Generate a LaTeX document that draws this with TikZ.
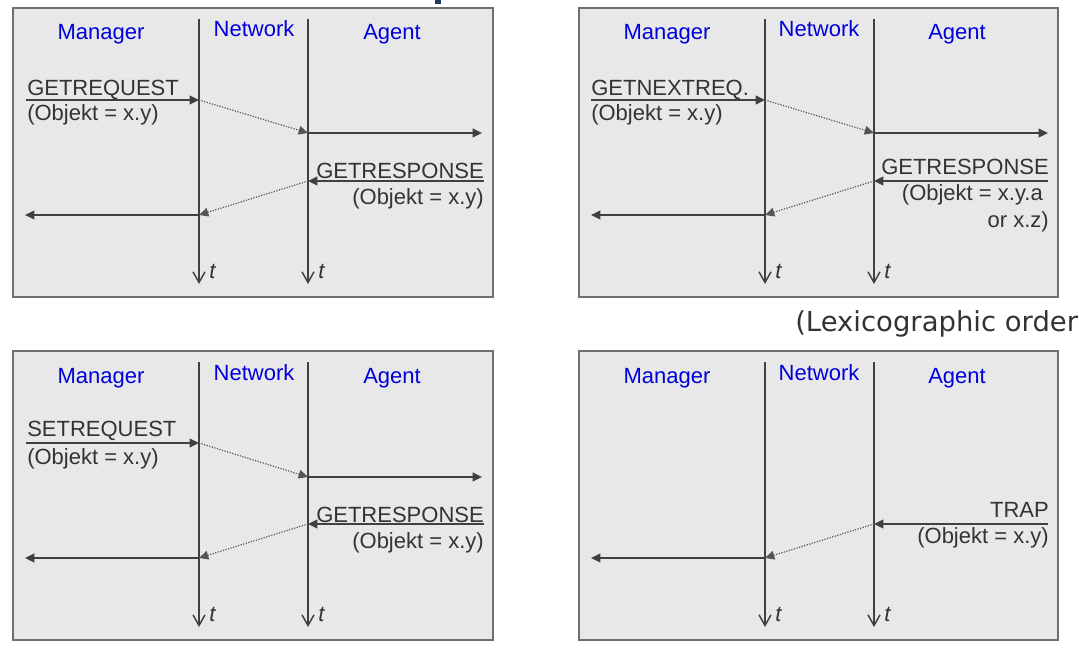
\documentclass[tikz,border=0pt]{standalone}
\usepackage{fontspec}
\setmainfont{Liberation Sans}
\newfontfamily\lexfont{DejaVu Sans}
\usetikzlibrary{arrows.meta}
\definecolor{panelfill}{HTML}{E8E8E8}
\definecolor{panelborder}{HTML}{707070}
\definecolor{linegray}{HTML}{404040}
\definecolor{msggray}{HTML}{404040}
\definecolor{hopgray}{HTML}{555555}
\definecolor{roleblue}{HTML}{0000DC}
\definecolor{txtgray}{HTML}{333333}
\definecolor{titleblue}{HTML}{1F3864}
\tikzset{
  panelbox/.style={draw=panelborder, fill=panelfill, line width=1.1pt},
  lane/.style={draw=linegray, line width=1.1pt, -{Straight Barb[length=8pt,width=9pt,line width=1.1pt]}},
  msg/.style={draw=msggray, line width=1.4pt, -{Triangle[length=7pt,width=6.5pt]}},
  hop/.style={draw=hopgray, line width=0.9pt, dash pattern=on 0.9pt off 1.1pt, -{Triangle[length=7pt,width=6.5pt]}},
  role/.style={text=roleblue, inner sep=0pt, font=\fontsize{16.5}{19}\selectfont},
  lbl/.style={text=txtgray, inner sep=0pt, font=\fontsize{16.5}{19}\selectfont},
  tlbl/.style={text=txtgray, inner sep=0pt, anchor=base west, font=\fontsize{16.5}{19}\selectfont\itshape},
}
\begin{document}
\begin{tikzpicture}[x=0.75pt, y=-0.75pt]
\useasboundingbox (0,0) rectangle (1079,649);
\fill[titleblue] (435,0) rectangle (441,4);
\node[anchor=base west, inner sep=0pt, text=txtgray, font=\lexfont\fontsize{20.6}{24}\selectfont] (lex) at (795,331) {(Lexicographic order};

% ---------- panel A: top left ----------
\begin{scope}[shift={(0,0)}]
\path[panelbox] (13,8) rectangle (493,297);
\node[role, anchor=base] (a-man) at (101,40) {Manager};
\node[role, anchor=base] (a-net) at (254,37) {Network};
\node[role, anchor=base] (a-agt) at (392,40) {Agent};
\coordinate (a-mtop) at (199,19); \coordinate (a-mbot) at (199,284);
\coordinate (a-atop) at (308,19); \coordinate (a-abot) at (308,284);
\draw[lane] (a-mtop) -- (a-mbot);
\draw[lane] (a-atop) -- (a-abot);
\node[tlbl] (a-t1) at (209,278) {t};
\node[tlbl] (a-t2) at (318,278) {t};
\coordinate (a-r0) at (26,100); \coordinate (a-r1) at (199,100);
\coordinate (a-r2) at (308,133); \coordinate (a-r3) at (482,133);
\coordinate (a-s0) at (484,181); \coordinate (a-s1) at (308,181);
\coordinate (a-s2) at (199,215); \coordinate (a-s3) at (25,215);
\draw[msg] (a-r0) -- (a-r1);
\draw[hop] (a-r1) -- (a-r2);
\draw[msg] (a-r2) -- (a-r3);
\draw[msg] (a-s0) -- (a-s1);
\draw[hop] (a-s1) -- (a-s2);
\draw[msg] (a-s2) -- (a-s3);
\node[lbl, anchor=base west] (a-req) at (27,96) {GETREQUEST};
\node[lbl, anchor=base west] (a-reqo) at (27,121) {(Objekt = x.y)};
\node[lbl, anchor=base east] (a-rsp) at (484,179) {GETRESPONSE};
\node[lbl, anchor=base east] (a-rspo) at (484,205) {(Objekt = x.y)};
\end{scope}

% ---------- panel B: top right ----------
\begin{scope}[shift={(566,0)}]
\path[panelbox] (13,8) rectangle (492,297);
\node[role, anchor=base] (b-man) at (101,40) {Manager};
\node[role, anchor=base] (b-net) at (253,37) {Network};
\node[role, anchor=base] (b-agt) at (391,40) {Agent};
\coordinate (b-mtop) at (199,19); \coordinate (b-mbot) at (199,284);
\coordinate (b-atop) at (308,19); \coordinate (b-abot) at (308,284);
\draw[lane] (b-mtop) -- (b-mbot);
\draw[lane] (b-atop) -- (b-abot);
\node[tlbl] (b-t1) at (209,278) {t};
\node[tlbl] (b-t2) at (318,278) {t};
\coordinate (b-r0) at (25,100); \coordinate (b-r1) at (199,100);
\coordinate (b-r2) at (308,133); \coordinate (b-r3) at (482,133);
\coordinate (b-s0) at (482,181); \coordinate (b-s1) at (308,181);
\coordinate (b-s2) at (199,215); \coordinate (b-s3) at (25,215);
\draw[msg] (b-r0) -- (b-r1);
\draw[hop] (b-r1) -- (b-r2);
\draw[msg] (b-r2) -- (b-r3);
\draw[msg] (b-s0) -- (b-s1);
\draw[hop] (b-s1) -- (b-s2);
\draw[msg] (b-s2) -- (b-s3);
\node[lbl, anchor=base west] (b-req) at (25,96) {GETNEXTREQ.};
\node[lbl, anchor=base west] (b-reqo) at (25,121) {(Objekt = x.y)};
\node[lbl, anchor=base east] (b-rsp) at (483,175) {GETRESPONSE};
\node[lbl, anchor=base east] (b-rspo) at (477,201) {(Objekt = x.y.a};
\node[lbl, anchor=base east] (b-rspo2) at (483,228) {or x.z)};
\end{scope}

% ---------- panel C: bottom left ----------
\begin{scope}[shift={(0,343)}]
\path[panelbox] (13,8) rectangle (493,297);
\node[role, anchor=base] (c-man) at (101,40) {Manager};
\node[role, anchor=base] (c-net) at (254,37) {Network};
\node[role, anchor=base] (c-agt) at (392,40) {Agent};
\coordinate (c-mtop) at (199,19); \coordinate (c-mbot) at (199,284);
\coordinate (c-atop) at (308,19); \coordinate (c-abot) at (308,284);
\draw[lane] (c-mtop) -- (c-mbot);
\draw[lane] (c-atop) -- (c-abot);
\node[tlbl] (c-t1) at (209,278) {t};
\node[tlbl] (c-t2) at (318,278) {t};
\coordinate (c-r0) at (26,100); \coordinate (c-r1) at (199,100);
\coordinate (c-r2) at (308,134); \coordinate (c-r3) at (482,134);
\coordinate (c-s0) at (484,181); \coordinate (c-s1) at (308,181);
\coordinate (c-s2) at (199,215); \coordinate (c-s3) at (25,215);
\draw[msg] (c-r0) -- (c-r1);
\draw[hop] (c-r1) -- (c-r2);
\draw[msg] (c-r2) -- (c-r3);
\draw[msg] (c-s0) -- (c-s1);
\draw[hop] (c-s1) -- (c-s2);
\draw[msg] (c-s2) -- (c-s3);
\node[lbl, anchor=base west] (c-req) at (27,93) {SETREQUEST};
\node[lbl, anchor=base west] (c-reqo) at (27,121) {(Objekt = x.y)};
\node[lbl, anchor=base east] (c-rsp) at (484,179) {GETRESPONSE};
\node[lbl, anchor=base east] (c-rspo) at (484,205) {(Objekt = x.y)};
\end{scope}

% ---------- panel D: bottom right ----------
\begin{scope}[shift={(566,343)}]
\path[panelbox] (13,8) rectangle (492,297);
\node[role, anchor=base] (d-man) at (101,40) {Manager};
\node[role, anchor=base] (d-net) at (253,37) {Network};
\node[role, anchor=base] (d-agt) at (391,40) {Agent};
\coordinate (d-mtop) at (199,19); \coordinate (d-mbot) at (199,284);
\coordinate (d-atop) at (308,19); \coordinate (d-abot) at (308,284);
\draw[lane] (d-mtop) -- (d-mbot);
\draw[lane] (d-atop) -- (d-abot);
\node[tlbl] (d-t1) at (209,278) {t};
\node[tlbl] (d-t2) at (318,278) {t};
\coordinate (d-s0) at (482,181); \coordinate (d-s1) at (308,181);
\coordinate (d-s2) at (199,215); \coordinate (d-s3) at (25,215);
\draw[msg] (d-s0) -- (d-s1);
\draw[hop] (d-s1) -- (d-s2);
\draw[msg] (d-s2) -- (d-s3);
\node[lbl, anchor=base east] (d-trap) at (483,174) {TRAP};
\node[lbl, anchor=base east] (d-trapo) at (483,200) {(Objekt = x.y)};
\end{scope}
\end{tikzpicture}
\end{document}
